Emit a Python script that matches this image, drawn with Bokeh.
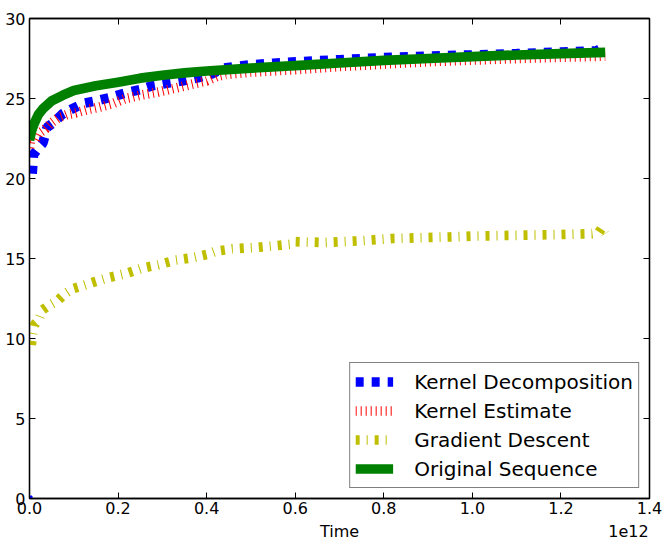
import numpy as np
from bokeh.plotting import figure
from bokeh.models import (Range1d, LinearAxis, FixedTicker, CustomJSTickFormatter,
                          Legend, LegendItem)
from bokeh.embed import file_html
from bokeh.resources import INLINE

# ---------------- data (time in units of 1e12) ----------------
kd_origin_time = [0.0]
kd_origin_vals = [0.0]

kd_time = [0.006, 0.009, 0.02, 0.03, 0.04, 0.055, 0.075, 0.1, 0.122, 0.15, 0.18, 0.224,
           0.25, 0.278, 0.31, 0.345, 0.38, 0.413, 0.44, 0.465, 0.5, 0.55, 0.61, 0.7,
           0.8, 0.9, 1.0, 1.1, 1.2, 1.28, 1.29, 1.295]
kd_vals = [20.3, 21.5, 21.9, 22.2, 23.2, 23.5, 24.05, 24.4, 24.7, 24.85, 25.05, 25.4,
           25.55, 25.8, 25.95, 26.1, 26.3, 26.55, 26.9, 27.0, 27.1, 27.2, 27.3, 27.42,
           27.55, 27.65, 27.72, 27.8, 27.9, 27.97, 28.12, 28.0]

ke_time = [0.0, 0.003, 0.013, 0.02, 0.036, 0.05, 0.065, 0.085, 0.104, 0.13, 0.156, 0.19,
           0.217, 0.25, 0.29, 0.33, 0.368, 0.4, 0.425, 0.443, 0.5, 0.6, 0.7, 0.8, 0.9,
           1.0, 1.1, 1.2, 1.3]
ke_vals = [21.9, 22.5, 22.4, 22.8, 23.1, 23.5, 23.8, 24.0, 24.1, 24.3, 24.45, 24.7,
           25.0, 25.2, 25.4, 25.65, 25.9, 26.1, 26.4, 26.5, 26.65, 26.8, 27.0, 27.15,
           27.3, 27.4, 27.5, 27.58, 27.65]

gd_time = [0.004, 0.007, 0.012, 0.02, 0.03, 0.04, 0.065, 0.08, 0.097, 0.12, 0.142, 0.178,
           0.217, 0.255, 0.29, 0.33, 0.368, 0.4, 0.42, 0.458, 0.517, 0.594, 0.6, 0.668,
           0.743, 0.82, 0.887, 0.95, 1.0, 1.1, 1.2, 1.27, 1.285, 1.292, 1.3]
gd_vals = [9.6, 10.3, 10.9, 11.1, 11.8, 12.0, 12.4, 12.8, 13.1, 13.3, 13.5, 13.8,
           14.05, 14.4, 14.6, 14.9, 15.05, 15.25, 15.45, 15.6, 15.7, 15.9, 16.05, 16.0,
           16.1, 16.25, 16.3, 16.35, 16.4, 16.45, 16.5, 16.55, 16.6, 16.9, 16.55]

os_time = [0.0, 0.005, 0.01, 0.02, 0.03, 0.05, 0.075, 0.1, 0.15, 0.2, 0.25, 0.3, 0.35,
           0.4, 0.5, 0.6, 0.7, 0.8, 0.9, 1.0, 1.1, 1.2, 1.3]
os_vals = [22.4, 23.0, 23.4, 24.0, 24.35, 24.85, 25.2, 25.5, 25.8, 26.02, 26.27, 26.45,
           26.6, 26.72, 26.9, 27.06, 27.22, 27.38, 27.5, 27.62, 27.72, 27.8, 27.88]

x_ticks = [0.0, 0.2, 0.4, 0.6, 0.8, 1.0, 1.2, 1.4]
y_ticks = [0, 5, 10, 15, 20, 25, 30]
SCALE = 1e12

# bottom text row: axis title and the offset ("1e12") text, placed along the x axis
bottom_texts = ["Time", "1e12"]
bottom_text_at = [0.7, 1.3526]

FONT = "DejaVu Sans"

p = figure(width=668, height=544, output_backend="svg", toolbar_location=None,
           x_range=Range1d(0, 1.4 * SCALE), y_range=Range1d(0, 30),
           min_border_left=29, min_border_right=19, min_border_top=18, min_border_bottom=46)
p.xgrid.visible = False
p.ygrid.visible = False
p.outline_line_color = "black"
p.outline_line_width = 1.3
p.background_fill_color = "white"
p.border_fill_color = "white"

xt = FixedTicker(ticks=[t * SCALE for t in x_ticks])
yt = FixedTicker(ticks=y_ticks)

p.xaxis.ticker = xt
p.yaxis.ticker = yt
p.xaxis.formatter = CustomJSTickFormatter(code="return (tick/1e12).toFixed(1);")
for ax in (p.xaxis[0], p.yaxis[0]):
    ax.major_label_text_font = FONT
    ax.major_label_text_font_size = "16px"
    ax.major_label_text_color = "black"
    ax.major_tick_in = 6
    ax.major_tick_out = 0
    ax.minor_tick_line_color = None
    ax.axis_line_color = "black"
    ax.axis_line_width = 1.3
    ax.major_tick_line_color = "black"
p.xaxis.major_label_standoff = 3
p.yaxis.major_label_standoff = 4

# second row below the x axis carrying "Time" and "1e12"
title_axis = LinearAxis(
    ticker=FixedTicker(ticks=[t * SCALE for t in bottom_text_at]),
    formatter=CustomJSTickFormatter(args=dict(labels=bottom_texts),
                                    code="return labels[index];"),
    major_label_standoff=5, major_tick_in=0, major_tick_out=0,
    major_tick_line_color=None, minor_tick_line_color=None, axis_line_color=None,
    major_label_text_font=FONT, major_label_text_font_size="16px",
    major_label_text_color="black")
p.add_layout(title_axis, "below")

blank = CustomJSTickFormatter(code="return '';")
for loc, tk in (("above", xt), ("right", yt)):
    ax = LinearAxis(ticker=tk, formatter=blank, major_label_standoff=0,
                    major_tick_in=6, major_tick_out=0, minor_tick_line_color=None,
                    axis_line_color="black", axis_line_width=1.3)
    p.add_layout(ax, loc)

W = 9.7
s = lambda a: np.array(a) * SCALE

r_kd = p.line(s(kd_time), kd_vals, line_color="#0000ff", line_width=W, line_dash="8 8",
              line_cap="butt")
p.scatter(s(kd_origin_time), kd_origin_vals, marker="square", size=5, color="#0000ff")
r_ke = p.line(s(ke_time), ke_vals, line_color="#ff0000", line_width=W, line_dash="1 4",
              line_cap="butt")
r_gd = p.line(s(gd_time), gd_vals, line_color="#bfbf00", line_width=W, line_dash="4 7 1 7",
              line_cap="butt")
r_os = p.line(s(os_time), os_vals, line_color="#008000", line_width=W, line_cap="butt",
              line_join="round")

legend = Legend(items=[LegendItem(label="Kernel Decomposition", renderers=[r_kd]),
                       LegendItem(label="Kernel Estimate", renderers=[r_ke]),
                       LegendItem(label="Gradient Descent", renderers=[r_gd]),
                       LegendItem(label="Original Sequence", renderers=[r_os])],
                location="bottom_right")
legend.label_text_font = FONT
legend.label_text_font_size = "20px"
legend.label_text_color = "black"
legend.glyph_width = 38
legend.glyph_height = 27
legend.label_height = 27
legend.spacing = 2
legend.padding = 5
legend.label_standoff = 21
legend.margin = 10
legend.border_line_color = "black"
legend.border_line_width = 1.3
legend.background_fill_color = "white"
legend.background_fill_alpha = 1.0
p.add_layout(legend)

open("out.html", "w").write(file_html(p, INLINE))
